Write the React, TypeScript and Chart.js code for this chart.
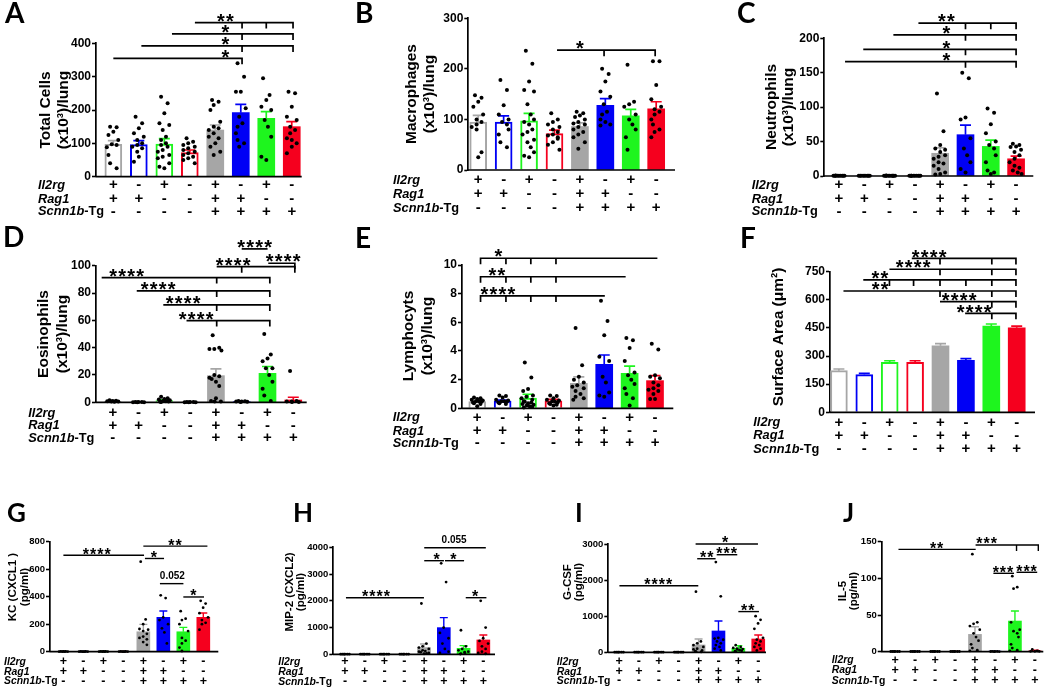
import React, { useEffect, useRef } from 'react';
import { Chart, registerables } from 'chart.js';
Chart.register(...registerables);

const W = 1050;
const H = 689;
const FONT = '"Liberation Sans", Arial, sans-serif';
const LETTER_FONT = 'Lato, "Open Sans", sans-serif';

const groupColors = ['#a6a6a6', '#0000f5', '#1ef51e', '#f5001e'];
const il2rg = ['+', '-', '+', '-', '+', '-', '+', '-'];
const rag1 = ['+', '+', '-', '-', '+', '+', '-', '-'];
const scnn1b = ['-', '-', '-', '-', '+', '+', '+', '+'];

// ---------- A: Total cells ----------
const totalCellsTicks = { max: 400, step: 100 };
const totalCellsMean = [97, 96, 98, 72, 140, 192, 175, 150];
const totalCellsSem = [11, 12, 16, 8, 15, 25, 20, 15];
const totalCellsPoints = [
  [150, 148, 135, 125, 110, 97, 95, 88, 65, 40, 25],
  [180, 160, 145, 130, 120, 110, 100, 95, 90, 85, 75, 60, 45],
  [240, 220, 190, 160, 155, 140, 120, 110, 100, 95, 90, 80, 75, 65, 60, 55, 40, 30, 25],
  [115, 105, 100, 95, 90, 85, 80, 75, 70, 65, 60, 55, 50, 40],
  [230, 225, 215, 200, 165, 150, 145, 140, 130, 120, 115, 100, 90, 75, 65],
  [340, 300, 255, 255, 205, 180, 160, 150, 130, 110, 100, 90],
  [295, 245, 230, 210, 200, 170, 150, 120, 60, 50],
  [255, 250, 210, 180, 170, 150, 140, 130, 115, 110, 100, 90, 70],
];
const totalCellsBrackets = [
  { y: 462, from: 3.2, to: 7.05, ticks: [5.05, 6, 7.05], label: '**', lx: 4.4 },
  { y: 428, from: 2.3, to: 7.05, ticks: [5.05, 7.05], label: '*', lx: 4.4 },
  { y: 392, from: 1.1, to: 7.05, ticks: [5.05, 7.05], label: '*', lx: 4.4 },
  { y: 355, from: 0, to: 5.05, ticks: [5.05], label: '*', lx: 4.4 },
];

// ---------- B: Macrophages ----------
const macrophagesTicks = { max: 300, step: 100 };
const macrophagesMean = [95, 95, 97, 72, 86, 128, 107, 121];
const macrophagesSem = [13, 12, 15, 7, 7, 13, 13, 14];
const macrophagesPoints = [
  [148, 143, 135, 125, 110, 100, 95, 90, 85, 80, 35, 25],
  [178, 158, 128, 110, 100, 95, 90, 80, 70, 55, 45],
  [236, 210, 175, 158, 155, 130, 110, 100, 95, 90, 80, 75, 70, 60, 55, 45, 35, 28, 25],
  [112, 100, 95, 90, 85, 80, 75, 70, 68, 65, 62, 55, 50, 40],
  [115, 112, 108, 105, 100, 95, 92, 90, 85, 80, 75, 70, 65, 55, 42],
  [200, 190, 175, 155, 145, 130, 115, 110, 100, 95, 90, 88],
  [208, 135, 130, 125, 110, 100, 90, 80, 65, 40],
  [215, 215, 168, 140, 125, 120, 115, 110, 100, 90, 80, 75, 65],
];
const macrophagesBrackets = [
  { y: 237, from: 3.1, to: 6.96, ticks: [4.95, 6.96], label: '*', lx: 4.0 },
];

// ---------- C: Neutrophils ----------
const neutrophilsTicks = { max: 200, step: 50 };
const neutrophilsMean = [0.3, 0.3, 0.3, 0.3, 33, 60, 43, 25];
const neutrophilsSem = [0.2, 0.2, 0.2, 0.2, 8, 14, 9, 4];
const neutrophilsPoints = [
  [0.6, 0.5, 0.4, 0.3, 0.3, 0.2, 0.5, 0.4, 0.3, 0.2],
  [0.5, 0.4, 0.4, 0.3, 0.3, 0.2, 0.5, 0.4, 0.3],
  [0.6, 0.5, 0.4, 0.3, 0.3, 0.2, 0.5, 0.4, 0.3, 0.2, 0.2],
  [0.5, 0.4, 0.4, 0.3, 0.3, 0.2, 0.5, 0.4, 0.3, 0.2],
  [120, 65, 45, 40, 38, 35, 30, 28, 25, 20, 18, 15, 10, 5, 3, 2],
  [150, 142, 85, 82, 55, 40, 30, 20, 10, 5],
  [98, 92, 75, 62, 50, 45, 40, 30, 20, 8, 5, 3],
  [47, 45, 43, 42, 38, 35, 30, 25, 20, 15, 12, 8, 5, 3],
];
const neutrophilsBrackets = [
  { y: 222, from: 3.14, to: 7, ticks: [5, 6, 7], label: '**', lx: 4.25 },
  { y: 205, from: 2.15, to: 7, ticks: [5, 7], label: '*', lx: 4.25 },
  { y: 184, from: 0.96, to: 7, ticks: [5, 7], label: '*', lx: 4.25 },
  { y: 166, from: 0.24, to: 7, ticks: [5, 7], label: '*', lx: 4.25 },
];

// ---------- D: Eosinophils ----------
const eosinophilsTicks = { max: 100, step: 20 };
const eosinophilsMean = [0.8, 0.2, 1.3, 0.2, 19.5, 0.4, 21.2, 1.7];
const eosinophilsSem = [0.2, 0.1, 0.5, 0.1, 5, 0.2, 5, 2];
const eosinophilsPoints = [
  [1.5, 1.2, 1, 0.8, 0.6, 0.5, 0.4],
  [0.3, 0.2, 0.2, 0.1, 0.1, 0.1],
  [4, 3, 2.5, 2, 1.5, 1, 0.8, 0.5, 0.4, 0.3],
  [0.3, 0.2, 0.2, 0.1, 0.1, 0.1],
  [49, 40, 39, 39, 38, 20, 19, 18, 17, 15, 12, 3, 1, 0.5, 0.5],
  [1, 0.8, 0.6, 0.5, 0.4, 0.3],
  [50, 35, 32, 30, 25, 25, 20, 15, 10, 5, 1],
  [23, 1, 0.6, 0.5, 0.3, 0.2],
];
const eosinophilsBrackets = [
  { y: 112.3, from: 5.0, to: 5.97, label: '****', lx: 5.5 },
  { y: 101.8, from: 6.03, to: 7.06, ticks: [7.06], label: '****', lx: 6.61 },
  { y: 99.3, from: 4.03, to: 7.06, ticks: [5.0, 7.06], label: '****', lx: 4.67 },
  { y: 91.3, from: -0.43, to: 6.09, ticks: [4.03, 6.09], label: '****', lx: 0.54 },
  { y: 81.5, from: 0.93, to: 6.09, ticks: [4.03, 6.09], label: '****', lx: 1.76 },
  { y: 71.3, from: 1.96, to: 6.09, ticks: [4.03, 6.09], label: '****', lx: 2.73 },
  { y: 59.8, from: 2.86, to: 6.09, ticks: [4.03, 6.09], label: '****', lx: 3.23 },
];

// ---------- E: Lymphocytes ----------
const lymphocytesTicks = { max: 10, step: 2 };
const lymphocytesMean = [0.47, 0.5, 0.72, 0.52, 1.74, 3.07, 2.44, 1.93];
const lymphocytesSem = [0.07, 0.07, 0.26, 0.1, 0.45, 0.65, 0.5, 0.35];
const lymphocytesPoints = [
  [0.75, 0.7, 0.65, 0.6, 0.55, 0.5, 0.5, 0.45, 0.4, 0.35, 0.3, 0.15],
  [0.9, 0.85, 0.75, 0.6, 0.55, 0.5, 0.5, 0.45, 0.4, 0.35, 0.3],
  [3.2, 2.15, 1.35, 1.2, 0.9, 0.8, 0.7, 0.6, 0.5, 0.45, 0.4, 0.35, 0.3, 0.25, 0.2, 0.15, 0.1, 0.05],
  [0.9, 0.85, 0.7, 0.6, 0.55, 0.5, 0.45, 0.4, 0.35, 0.3, 0.25, 0.2],
  [5.6, 3.0, 2.2, 2.0, 1.8, 1.6, 1.5, 1.4, 1.2, 1.0, 0.8, 0.7, 0.6],
  [7.5, 6.1, 5.1, 3.6, 3.3, 2.2, 1.8, 1.1, 0.9, 0.8],
  [4.9, 4.75, 4.2, 3.3, 2.5, 2.3, 2.0, 1.7, 1.4, 1.0, 0.7, 0.2],
  [4.5, 4.1, 2.3, 2.2, 2.1, 1.8, 1.6, 1.4, 1.3, 1.2, 1.0, 0.65, 0.65],
];
const lymphocytesBrackets = [
  { y: 10.47, from: 0.13, to: 7.06, ticks: [0.13, 1.13, 2.11, 3.1], label: '*', lx: 0.83 },
  { y: 9.18, from: 0.13, to: 5.81, ticks: [0.13, 1.13, 2.11, 3.1], label: '**', lx: 0.77 },
  { y: 7.84, from: 0.13, to: 4.99, ticks: [0.13, 1.13, 2.11, 3.1], label: '****', lx: 0.81 },
];

// ---------- F: Surface area ----------
const surfaceAreaTicks = { max: 750, step: 150 };
const surfaceAreaMean = [222, 201, 267, 267, 355, 277, 460, 451];
const surfaceAreaSem = [9, 7, 8, 8, 11, 9, 11, 9];
const surfaceAreaPoints: number[][] = [[], [], [], [], [], [], [], []];
const surfaceAreaBrackets = [
  { y: 821, from: 2.87, to: 6.97, ticks: [3.98, 6.02, 6.97], label: '****', lx: 3.55 },
  { y: 763, from: 1.99, to: 6.97, ticks: [3.98, 6.02, 6.97], label: '****', lx: 2.92 },
  { y: 706, from: 0.96, to: 6.97, ticks: [1.99, 2.94, 3.98, 5.0, 6.02, 6.97], label: '**', lx: 1.61 },
  { y: 647, from: 0.18, to: 6.97, ticks: [3.98, 6.02, 6.97], label: '**', lx: 1.62 },
  { y: 590, from: 3.98, to: 6.97, ticks: [6.02, 6.97], label: '****', lx: 4.73 },
  { y: 528, from: 4.97, to: 6.97, ticks: [6.02, 6.97], label: '****', lx: 5.32 },
];

// ---------- G: KC ----------
const kcTicks = { max: 800, step: 200 };
const kcMean = [1, 1, 1, 1, 145, 250, 145, 250];
const kcSem = [0.5, 0.5, 0.5, 0.5, 54, 46, 32, 31];
const kcPoints = [
  [2, 2, 2, 1, 1, 1, 1],
  [2, 2, 1, 1, 1, 1, 1],
  [2, 2, 2, 1, 1, 1, 1],
  [2, 2, 1, 1, 1, 1, 1],
  [655, 235, 200, 165, 160, 150, 130, 110, 100, 90, 70, 50],
  [410, 390, 250, 230, 200, 170, 140, 60],
  [295, 240, 230, 200, 150, 100, 80, 60, 30, 5],
  [370, 350, 320, 280, 250, 230, 210, 200, 160],
];
const kcBrackets = [
  { y: 702, from: 0, to: 4, label: '****', lx: 1.67 },
  { y: 768, from: 4, to: 7.17, label: '**', lx: 5.58 },
  { y: 678, from: 4.08, to: 5.0, label: '*', lx: 4.53 },
  { y: 495, from: 4.83, to: 5.97, label: '0.052', lx: 5.45 },
  { y: 398, from: 6.0, to: 7.0, label: '*', lx: 6.5 },
];

// ---------- H: MIP-2 ----------
const mip2Ticks = { max: 4000, step: 1000 };
const mip2Mean = [5, 5, 5, 5, 250, 997, 224, 536];
const mip2Sem = [2, 2, 2, 2, 136, 374, 100, 187];
const mip2Points = [
  [5, 5, 5, 5, 5, 5],
  [5, 5, 5, 5, 5, 5],
  [5, 5, 5, 5, 5, 5],
  [5, 5, 5, 5, 5, 5],
  [1900, 400, 300, 250, 200, 150, 120, 100, 80, 50, 30, 20],
  [3400, 2700, 1000, 800, 600, 400, 200, 100, 50],
  [900, 300, 200, 150, 100, 80, 50, 20, 10],
  [2000, 1000, 600, 500, 400, 300, 200, 100, 50, 20],
];
const mip2Brackets = [
  { y: 3985, from: 4.01, to: 7.09, label: '0.055', lx: 5.52 },
  { y: 3499, from: 4.01, to: 4.97, label: '*', lx: 4.64 },
  { y: 3499, from: 5.06, to: 5.99, label: '*', lx: 5.48 },
  { y: 2116, from: 0.05, to: 3.96, label: '****', lx: 1.57 },
  { y: 2116, from: 6.11, to: 7.12, label: '*', lx: 6.58 },
];

// ---------- I: G-CSF ----------
const gcsfTicks = { max: 3000, step: 1000 };
const gcsfMean = [3, 3, 3, 3, 203, 591, 111, 369];
const gcsfSem = [1, 1, 1, 1, 166, 277, 74, 111];
const gcsfPoints = [
  [3, 3, 3, 3, 3, 3],
  [3, 3, 3, 3, 3, 3],
  [3, 3, 3, 3, 3, 3],
  [3, 3, 3, 3, 3, 3],
  [1680, 300, 250, 200, 150, 100, 80, 50, 30, 20, 10],
  [2500, 1550, 400, 380, 350, 300, 250, 200, 150, 100, 50],
  [200, 150, 120, 100, 90, 80, 60, 40, 30, 20],
  [1000, 900, 800, 650, 400, 350, 300, 250, 200, 150, 100, 50],
];
const gcsfBrackets = [
  { y: 3000, from: 3.85, to: 6.95, label: '*', lx: 5.33 },
  { y: 2592, from: 3.93, to: 4.82, label: '**', lx: 4.41 },
  { y: 2703, from: 4.91, to: 5.91, label: '***', lx: 5.41 },
  { y: 1842, from: 0.02, to: 3.95, label: '****', lx: 1.97 },
  { y: 1128, from: 6.0, to: 7.0, label: '**', lx: 6.47 },
];

// ---------- J: IL-5 ----------
const il5Ticks = { max: 150, step: 50 };
const il5Mean = [0.3, 0.3, 0.3, 0.3, 23.6, 0.3, 41.8, 1];
const il5Sem = [0.1, 0.1, 0.1, 0.1, 10.4, 0.1, 13.7, 1];
const il5Points = [
  [0.3, 0.3, 0.3, 0.3, 0.3, 0.3],
  [0.3, 0.3, 0.3, 0.3, 0.3, 0.3],
  [0.3, 0.3, 0.3, 0.3, 0.3, 0.3],
  [0.3, 0.3, 0.3, 0.3, 0.3, 0.3],
  [133, 40, 38, 35, 30, 25, 20, 15, 10, 5, 2, 1],
  [0.5, 0.4, 0.3, 0.3, 0.2, 0.2],
  [103, 88, 86, 40, 30, 28, 25, 20, 10, 5, 2, 1],
  [3, 1, 0.5, 0.5, 0.5],
];
const il5Brackets = [
  { y: 139.6, from: 0.17, to: 4.0, label: '**', lx: 2.08 },
  { y: 145.5, from: 4.03, to: 7.17, ticks: [6.08, 7.17], label: '***', lx: 4.58 },
  { y: 106.9, from: 4.92, to: 5.92, label: '***', lx: 5.4 },
  { y: 108.3, from: 6.08, to: 7.08, label: '***', lx: 6.58 },
];

// ---------- styles ----------
const LARGE = {
  tickFont: 12, titleFont: 15.5, rowFont: 12.8, signFont: 15, barW: 17, capW: 11, dotR: 2.0,
  lineW: 1.7, starSize: 20, starSp: 9, starOff: 6, numFont: 10, tickLen: 6, letterSize: 28,
};
const SMALL = {
  tickFont: 9.5, titleFont: 11.5, rowFont: 10.4, signFont: 12.5, barW: 13, capW: 8, dotR: 1.4,
  lineW: 1.4, starSize: 16, starSp: 7.2, starOff: 4.5, numFont: 10, tickLen: 6, letterSize: 26,
};

const panels = [
  { letter: 'A', lx: 5, lb: 23, title: ['Total Cells', '(x10³)/lung'], tx: [45.5, 64], tcy: 110,
    axisX: 96, yTop: 43.3, y0: 176.7, xEnd: 301.7, xMin: -0.68, xMax: 7.39, rows: [185, 199, 211.5], rowX: 38,
    ticks: totalCellsTicks, mean: totalCellsMean, sem: totalCellsSem, points: totalCellsPoints, brackets: totalCellsBrackets, st: LARGE },
  { letter: 'B', lx: 355, lb: 23, title: ['Macrophages', '(x10³)/lung'], tx: [411.7, 430], tcy: 94,
    axisX: 468.3, yTop: 18.3, y0: 170, xEnd: 675, xMin: -0.39, xMax: 7.74, rows: [180, 194.3, 208.3], rowX: 393,
    ticks: macrophagesTicks, mean: macrophagesMean, sem: macrophagesSem, points: macrophagesPoints, brackets: macrophagesBrackets, st: LARGE },
  { letter: 'C', lx: 737, lb: 23, title: ['Neutrophils', '(x10³)/lung'], tx: [771.7, 788.3], tcy: 107,
    axisX: 824.3, yTop: 38.3, y0: 176, xEnd: 1033.3, xMin: -0.58, xMax: 7.68, rows: [185, 199, 211.5], rowX: 751.7,
    ticks: neutrophilsTicks, mean: neutrophilsMean, sem: neutrophilsSem, points: neutrophilsPoints, brackets: neutrophilsBrackets, st: LARGE },
  { letter: 'D', lx: 3, lb: 247, title: ['Eosinophils', '(x10³)/lung'], tx: [44, 62.3], tcy: 334,
    axisX: 96, yTop: 265.7, y0: 402.3, xEnd: 306.7, xMin: -0.65, xMax: 7.52, rows: [413.3, 425.5, 438.3], rowX: 28.3,
    ticks: eosinophilsTicks, mean: eosinophilsMean, sem: eosinophilsSem, points: eosinophilsPoints, brackets: eosinophilsBrackets, st: LARGE },
  { letter: 'E', lx: 355, lb: 248, title: ['Lymphocyts', '(x10³)/lung'], tx: [408.3, 427.3], tcy: 336,
    axisX: 462, yTop: 265, y0: 408.3, xEnd: 673.3, xMin: -0.6, xMax: 7.72, rows: [417.7, 431, 443.3], rowX: 392.7,
    ticks: lymphocytesTicks, mean: lymphocytesMean, sem: lymphocytesSem, points: lymphocytesPoints, brackets: lymphocytesBrackets, st: LARGE },
  { letter: 'F', lx: 740, lb: 248, title: ['Surface Area (μm²)'], tx: [778.3], tcy: 337,
    axisX: 830, yTop: 271.7, y0: 412.3, xEnd: 1035, xMin: -0.35, xMax: 7.72, rows: [422.7, 435.7, 449], rowX: 753.3,
    ticks: surfaceAreaTicks, mean: surfaceAreaMean, sem: surfaceAreaSem, points: surfaceAreaPoints, brackets: surfaceAreaBrackets, st: LARGE },
  { letter: 'G', lx: 7, lb: 522, title: ['KC (CXCL1 )', '(pg/ml)'], tx: [13.3, 25], tcy: 587,
    axisX: 50, yTop: 541.7, y0: 651.7, xEnd: 218.3, xMin: -0.67, xMax: 7.75, rows: [661.7, 671.7, 681.3], rowX: 4,
    ticks: kcTicks, mean: kcMean, sem: kcSem, points: kcPoints, brackets: kcBrackets, st: SMALL },
  { letter: 'H', lx: 293, lb: 522, title: ['MIP-2 (CXCL2)', '(pg/ml)'], tx: [290, 300.5], tcy: 592,
    axisX: 333.3, yTop: 547.3, y0: 654.3, xEnd: 495, xMin: -0.59, xMax: 7.59, rows: [661.7, 672, 681.7], rowX: 278.3,
    ticks: mip2Ticks, mean: mip2Mean, sem: mip2Sem, points: mip2Points, brackets: mip2Brackets, st: SMALL },
  { letter: 'I', lx: 575, lb: 522, title: ['G-CSF', '(pg/ml)'], tx: [568.3, 578.5], tcy: 582,
    axisX: 608.3, yTop: 544, y0: 652.3, xEnd: 766, xMin: -0.54, xMax: 7.39, rows: [661.7, 671.7, 681], rowX: 556.7,
    ticks: gcsfTicks, mean: gcsfMean, sem: gcsfSem, points: gcsfPoints, brackets: gcsfBrackets, st: SMALL },
  { letter: 'J', lx: 843, lb: 522, title: ['IL-5', '(pg/ml)'], tx: [843.3, 853.5], tcy: 591,
    axisX: 881.7, yTop: 541.7, y0: 651.7, xEnd: 1043.3, xMin: -0.67, xMax: 7.42, rows: [660.5, 670.5, 681], rowX: 831.7,
    ticks: il5Ticks, mean: il5Mean, sem: il5Sem, points: il5Points, brackets: il5Brackets, st: SMALL },
];

// deterministic beeswarm layout of dots (pixel offsets)
function swarm(ys: number[], d: number, maxOff: number): number[] {
  const placed: { x: number; y: number }[] = [];
  const prefs = [-0.5, 0.5, 0, -0.85, 0.85, -0.2, 0.25, 0.65, -0.65];
  const cands: number[] = [];
  const step = d / 3;
  for (let c = -maxOff; c <= maxOff + 1e-6; c += step) cands.push(c);
  return ys.map((y, k) => {
    const pref = prefs[k % prefs.length] * maxOff;
    const sorted = cands.slice().sort((a, b) => Math.abs(a - pref) - Math.abs(b - pref));
    let best = pref;
    for (const c of sorted) {
      if (placed.every((p) => Math.hypot(p.x - c, p.y - y) >= d)) { best = c; break; }
    }
    placed.push({ x: best, y });
    return best;
  });
}

function drawLabel(ctx: CanvasRenderingContext2D, text: string, cx: number, lineY: number, st: any) {
  ctx.fillStyle = '#000';
  if (/^\*+$/.test(text)) {
    ctx.font = `bold ${st.starSize}px ${FONT}`;
    ctx.textAlign = 'center';
    ctx.textBaseline = 'alphabetic';
    const n = text.length;
    const cy = lineY - st.starOff;
    for (let i = 0; i < n; i++) {
      const x = cx + (i - (n - 1) / 2) * st.starSp;
      ctx.fillText('*', x, cy + 0.56 * st.starSize);
    }
  } else {
    ctx.font = `bold ${st.numFont}px ${FONT}`;
    ctx.textAlign = 'center';
    ctx.textBaseline = 'middle';
    ctx.fillText(text, cx, lineY - 7);
  }
}

function makePlugin(cfg: any) {
  const st = cfg.st;
  return {
    id: 'panelDecor' + cfg.letter,
    afterDatasetDraw(chart: any, args: any) {
      if (args.index !== 1) return;
      const ctx = chart.ctx;
      const ys = chart.scales.y;
      ctx.save();
      ctx.lineWidth = st.lineW;
      args.meta.data.forEach((el: any, i: number) => {
        const top = ys.getPixelForValue(cfg.mean[i] + cfg.sem[i]);
        ctx.strokeStyle = groupColors[i % 4];
        ctx.beginPath();
        ctx.moveTo(el.x, el.y);
        ctx.lineTo(el.x, top);
        ctx.moveTo(el.x - st.capW / 2, top);
        ctx.lineTo(el.x + st.capW / 2, top);
        ctx.stroke();
      });
      ctx.restore();
    },
    afterDraw(chart: any) {
      const ctx = chart.ctx;
      const xs = chart.scales.x;
      const ys = chart.scales.y;
      const area = chart.chartArea;
      ctx.save();
      // x axis line
      ctx.strokeStyle = '#000';
      ctx.lineWidth = 1.7;
      const yz = ys.getPixelForValue(0);
      ctx.beginPath();
      ctx.moveTo(area.left - 0.8, yz);
      ctx.lineTo(area.right, yz);
      ctx.stroke();
      // significance brackets
      ctx.lineWidth = st.lineW;
      for (const b of cfg.brackets) {
        const y = ys.getPixelForValue(b.y);
        const x1 = xs.getPixelForValue(b.from);
        const x2 = xs.getPixelForValue(b.to);
        ctx.beginPath();
        ctx.moveTo(x1, y);
        ctx.lineTo(x2 + st.lineW / 2, y);
        for (const t of b.ticks || []) {
          const tx = xs.getPixelForValue(t);
          ctx.moveTo(tx, y - st.lineW / 2);
          ctx.lineTo(tx, y + st.tickLen);
        }
        ctx.stroke();
        drawLabel(ctx, b.label, xs.getPixelForValue(b.lx), y, st);
      }
      // genotype table
      ctx.fillStyle = '#000';
      ctx.textBaseline = 'middle';
      const rowsSigns = [il2rg, rag1, scnn1b];
      ctx.textAlign = 'left';
      ctx.font = `italic bold ${st.rowFont}px ${FONT}`;
      ctx.fillText('Il2rg', cfg.rowX, cfg.rows[0]);
      ctx.fillText('Rag1', cfg.rowX, cfg.rows[1]);
      ctx.fillText('Scnn1b', cfg.rowX, cfg.rows[2]);
      const wS = ctx.measureText('Scnn1b').width;
      ctx.font = `bold ${st.rowFont}px ${FONT}`;
      ctx.fillText('-Tg', cfg.rowX + wS, cfg.rows[2]);
      ctx.textAlign = 'center';
      ctx.font = `bold ${st.signFont}px ${FONT}`;
      rowsSigns.forEach((signs, r) => {
        signs.forEach((s, i) => {
          ctx.fillText(s, xs.getPixelForValue(i), cfg.rows[r]);
        });
      });
      // y axis title
      ctx.font = `bold ${st.titleFont}px ${FONT}`;
      ctx.textAlign = 'center';
      ctx.textBaseline = 'middle';
      cfg.title.forEach((t: string, k: number) => {
        ctx.save();
        ctx.translate(cfg.tx[k], cfg.tcy);
        ctx.rotate(-Math.PI / 2);
        ctx.fillText(t, 0, 0);
        ctx.restore();
      });
      // panel letter
      ctx.font = `bold ${st.letterSize}px ${LETTER_FONT}`;
      ctx.textAlign = 'left';
      ctx.textBaseline = 'alphabetic';
      ctx.fillText(cfg.letter, cfg.lx, cfg.lb);
      ctx.restore();
    },
  };
}

const YW = 30;

function Panel({ cfg }: { cfg: any }) {
  const ref = useRef<HTMLCanvasElement>(null);
  useEffect(() => {
    const st = cfg.st;
    const plotH = cfg.y0 - cfg.yTop;
    const plotW = cfg.xEnd - cfg.axisX;
    const pxPerX = plotW / (cfg.xMax - cfg.xMin);
    const pxPerY = plotH / cfg.ticks.max;
    const pts: { x: number; y: number }[] = [];
    cfg.points.forEach((vals: number[], i: number) => {
      const offs = swarm(vals.map((v) => v * pxPerY), st.dotR * 2 + 0.9, st.barW / 2 - st.dotR);
      vals.forEach((v, k) => pts.push({ x: i + offs[k] / pxPerX, y: v }));
    });
    const chart = new Chart(ref.current as HTMLCanvasElement, {
      type: 'bar',
      data: {
        datasets: [
          {
            type: 'scatter',
            data: pts,
            pointRadius: st.dotR,
            pointBackgroundColor: '#000',
            pointBorderWidth: 0,
            clip: false as any,
            order: 0,
          } as any,
          {
            type: 'bar',
            data: cfg.mean.map((m: number, i: number) => ({ x: i, y: m })),
            backgroundColor: cfg.mean.map((_: number, i: number) => (i < 4 ? '#ffffff' : groupColors[i % 4])),
            borderColor: cfg.mean.map((_: number, i: number) => groupColors[i % 4]),
            borderWidth: cfg.mean.map((_: number, i: number) => (i < 4 ? 2 : 0)),
            borderSkipped: 'start',
            barThickness: st.barW,
            clip: false as any,
            order: 1,
          } as any,
        ],
      },
      options: {
        animation: false,
        responsive: false,
        devicePixelRatio: 1,
        events: [],
        layout: {
          padding: { left: cfg.axisX - YW, top: cfg.yTop, right: W - cfg.xEnd, bottom: H - cfg.y0 },
        },
        plugins: { legend: { display: false }, tooltip: { enabled: false }, title: { display: false } },
        scales: {
          x: { type: 'linear', display: false, offset: false, min: cfg.xMin, max: cfg.xMax },
          y: {
            type: 'linear',
            min: 0,
            max: cfg.ticks.max,
            afterFit: (s: any) => { s.width = YW; },
            ticks: {
              stepSize: cfg.ticks.step,
              color: '#000',
              padding: 1,
              font: { family: FONT, weight: 'bold', size: st.tickFont },
              callback: (v: any) => String(v),
            },
            grid: { display: true, drawOnChartArea: false, drawTicks: true, tickLength: 4, tickWidth: 1.6, tickColor: '#000' },
            border: { display: true, color: '#000', width: 1.7 },
          },
        },
      } as any,
      plugins: [makePlugin(cfg)],
    });
    return () => chart.destroy();
  }, []);
  return <canvas ref={ref} width={W} height={H} style={{ position: 'absolute', left: 0, top: 0 }} />;
}

export default function App() {
  return (
    <div style={{ position: 'fixed', left: 0, top: 0, width: W, height: H, background: '#fff', overflow: 'hidden' }}>
      {panels.map((p) => (
        <Panel key={p.letter} cfg={p} />
      ))}
    </div>
  );
}
